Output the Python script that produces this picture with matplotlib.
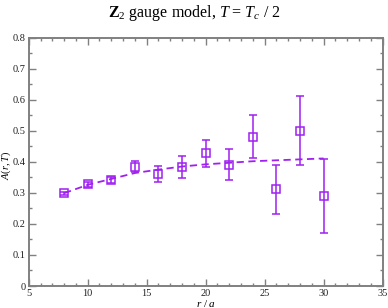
import numpy as np
import matplotlib
matplotlib.use('Agg')
import matplotlib.pyplot as plt
from matplotlib.ticker import MultipleLocator

plt.rcParams['font.family'] = 'Liberation Serif'
plt.rcParams['mathtext.fontset'] = 'custom'
plt.rcParams['mathtext.rm'] = 'Liberation Serif'
plt.rcParams['mathtext.it'] = 'Liberation Serif:italic'
plt.rcParams['mathtext.bf'] = 'Liberation Serif:bold'

# measured data
r = [8, 10, 12, 14, 16, 18, 20, 22, 24, 26, 28, 30]
A = [0.299, 0.328, 0.342, 0.385, 0.361, 0.383, 0.428, 0.390, 0.481, 0.311, 0.501, 0.290]
A_err = [0.005, 0.008, 0.010, 0.019, 0.026, 0.036, 0.044, 0.050, 0.070, 0.080, 0.110, 0.120]

# fit curve (dashed)
r_fit = [8, 10, 12, 14, 16, 18, 20, 22, 24, 26, 28, 30]
A_fit = [0.299, 0.326, 0.345, 0.364, 0.375, 0.385, 0.392, 0.397, 0.402, 0.405, 0.408, 0.411]

col = '#a020f0'
grey = '#808080'

fig = plt.figure(figsize=(3.88, 3.08), dpi=100)
ax = fig.add_axes([0.074, 0.0714, 0.912, 0.8062])

ax.plot(r_fit, A_fit, ls='--', color=col, lw=1.3, dashes=(4, 2.5))
ax.errorbar(r, A, yerr=A_err, fmt='s', mfc='none', mec=col, ms=6, mew=1.1,
            ecolor=col, elinewidth=1.1, capsize=3, capthick=1.1)

ax.set_xlim(5, 35)
ax.set_ylim(0, 0.8)
ax.xaxis.set_minor_locator(MultipleLocator(1))
ax.yaxis.set_minor_locator(MultipleLocator(0.05))
ax.set_xticks([5, 10, 15, 20, 25, 30, 35])
ax.set_xticklabels(['5', '10', '15', '20', '25', '30', '35'])
ax.set_yticks([0, 0.1, 0.2, 0.3, 0.4, 0.5, 0.6, 0.7, 0.8])
ax.set_yticklabels(['0', '0.1', '0.2', '0.3', '0.4', '0.5', '0.6', '0.7', '0.8'])

ax.tick_params(which='both', direction='in', top=True, right=True, color=grey,
               labelsize=7.5, labelcolor='#222222', width=1)
ax.tick_params(which='major', length=5, pad=2)
ax.tick_params(which='minor', length=2.5)
for s in ax.spines.values():
    s.set_color(grey)
    s.set_linewidth(1.4)

ax.set_xlabel(r'$r$ / $a$', fontsize=8, labelpad=0)
fig.text(6 / 388, 1 - 165 / 308, r'$A(r,T)$', rotation=90, ha='center',
         va='center', fontsize=7.5)
fig.text(0.5, 0.958, r'$\mathbf{Z}_2$ gauge model, $T$ = $T_c$ / 2',
         ha='center', va='center', fontsize=11.5)

fig.savefig('out.png', dpi=100)
